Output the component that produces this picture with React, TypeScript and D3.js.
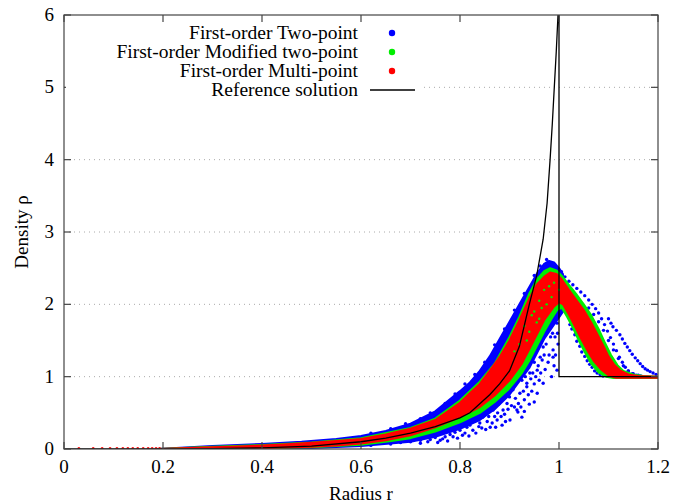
import React, { useRef, useEffect } from 'react';
import * as d3 from 'd3';

// axis ticks
const xTicks = [0, 0.2, 0.4, 0.6, 0.8, 1, 1.2];
const yTicks = [0, 1, 2, 3, 4, 5, 6];
const gridLevels = [1, 2, 3, 4, 5];

const legendLabels = ['First-order Two-point', 'First-order Modified two-point', 'First-order Multi-point', 'Reference solution'];
const seriesColors = ['#0000ff', '#00ee00', '#ff0000'];

// reference solution
const refR = [0, 0.2, 0.3, 0.4, 0.5, 0.6, 0.65, 0.7, 0.75, 0.8, 0.82, 0.86, 0.88, 0.9, 0.92, 0.94, 0.955, 0.968, 0.976, 0.982, 0.9865, 0.9905, 0.9945, 0.998, 1.0, 1.0, 1.2];
const refRho = [0, 0.002, 0.006, 0.015, 0.04, 0.1, 0.15, 0.22, 0.31, 0.43, 0.5, 0.75, 0.9, 1.08, 1.42, 2.0, 2.4, 2.9, 3.4, 4.0, 4.5, 5.0, 5.5, 6.0, 6.0, 1.0, 1.0];

// dense part of each cloud: upper and lower edges [r, rho]
const blueUpper = [[0.19, 0], [0.3, 0.04], [0.4, 0.07], [0.48, 0.1], [0.55, 0.14], [0.6, 0.18], [0.65, 0.25], [0.7, 0.35], [0.75, 0.52], [0.8, 0.8], [0.82, 0.92], [0.84, 1.08], [0.86, 1.28], [0.88, 1.52], [0.9, 1.76], [0.92, 2.0], [0.94, 2.24], [0.955, 2.42], [0.97, 2.56], [0.98, 2.6], [0.99, 2.58], [1.0, 2.5], [1.008, 2.42]];
const blueLower = [[1.008, 1.9], [0.97, 1.52], [0.94, 1.12], [0.9, 0.75], [0.87, 0.55], [0.84, 0.4], [0.8, 0.28], [0.75, 0.17], [0.7, 0.1], [0.6, 0.04], [0.5, 0.015], [0.4, 0.005], [0.19, 0]];

const greenUpper = [[0.19, 0], [0.3, 0.03], [0.4, 0.055], [0.5, 0.09], [0.6, 0.15], [0.7, 0.29], [0.75, 0.42], [0.8, 0.67], [0.84, 0.93], [0.87, 1.18], [0.9, 1.55], [0.92, 1.83], [0.94, 2.15], [0.955, 2.34], [0.97, 2.46], [0.982, 2.5], [0.995, 2.47], [1.005, 2.4], [1.02, 2.27], [1.035, 2.14], [1.05, 2.0], [1.065, 1.85], [1.08, 1.66], [1.092, 1.48], [1.105, 1.3], [1.118, 1.16], [1.13, 1.08], [1.15, 1.03], [1.17, 1.01], [1.2, 1.0]];
const greenLower = [[1.2, 0.98], [1.11, 0.98], [1.095, 1.0], [1.08, 1.06], [1.065, 1.18], [1.052, 1.34], [1.04, 1.5], [1.028, 1.68], [1.016, 1.83], [1.006, 1.95], [0.997, 1.93], [0.985, 1.8], [0.97, 1.62], [0.955, 1.42], [0.94, 1.22], [0.925, 1.05], [0.9, 0.84], [0.87, 0.65], [0.84, 0.5], [0.8, 0.37], [0.75, 0.24], [0.7, 0.15], [0.65, 0.1], [0.6, 0.06], [0.5, 0.025], [0.4, 0.008], [0.19, 0]];

const redUpper = [[0.19, 0], [0.25, 0.015], [0.3, 0.025], [0.35, 0.035], [0.4, 0.05], [0.45, 0.065], [0.5, 0.085], [0.55, 0.11], [0.6, 0.14], [0.65, 0.2], [0.7, 0.28], [0.75, 0.4], [0.8, 0.64], [0.82, 0.77], [0.84, 0.9], [0.86, 1.08], [0.88, 1.27], [0.9, 1.5], [0.92, 1.78], [0.94, 2.08], [0.955, 2.27], [0.97, 2.38], [0.982, 2.44], [0.995, 2.42], [1.005, 2.35], [1.02, 2.2], [1.035, 2.06], [1.05, 1.92], [1.065, 1.75], [1.078, 1.58], [1.09, 1.42], [1.1, 1.28], [1.112, 1.16], [1.125, 1.08], [1.14, 1.03], [1.16, 1.01], [1.2, 1.0]];
const redLower = [[1.2, 0.985], [1.115, 0.985], [1.1, 1.02], [1.085, 1.1], [1.07, 1.22], [1.06, 1.33], [1.045, 1.52], [1.032, 1.7], [1.02, 1.86], [1.008, 2.0], [1.0, 2.03], [0.99, 1.97], [0.97, 1.78], [0.955, 1.58], [0.94, 1.38], [0.925, 1.18], [0.9, 0.95], [0.87, 0.74], [0.84, 0.58], [0.8, 0.44], [0.75, 0.3], [0.7, 0.19], [0.65, 0.12], [0.6, 0.075], [0.55, 0.05], [0.5, 0.03], [0.45, 0.02], [0.4, 0.012], [0.3, 0.005], [0.19, 0]];

// loose points outside the dense parts
const blueDots = [
  [0.62, 0.22], [0.66, 0.28], [0.69, 0.35], [0.72, 0.42], [0.74, 0.5], [0.77, 0.63], [0.79, 0.76], [0.81, 0.9], [0.83, 1.03], [0.85, 1.2],
  [0.87, 1.44], [0.89, 1.66], [0.91, 1.92], [0.93, 2.15], [0.95, 2.4], [0.962, 2.53], [0.975, 2.62],
  [0.62, 0.05], [0.66, 0.07], [0.68, 0.09], [0.7, 0.1], [0.72, 0.12], [0.74, 0.13], [0.75, 0.16], [0.76, 0.12], [0.77, 0.17], [0.78, 0.2],
  [0.786, 0.17], [0.79, 0.23], [0.8, 0.26], [0.81, 0.22], [0.814, 0.3], [0.82, 0.33], [0.826, 0.26], [0.83, 0.4], [0.84, 0.36], [0.844, 0.29],
  [0.846, 0.44], [0.85, 0.5], [0.855, 0.38], [0.861, 0.58], [0.861, 0.3], [0.867, 0.54], [0.87, 0.45], [0.875, 0.4], [0.878, 0.62], [0.881, 0.68],
  [0.885, 0.33], [0.887, 0.54], [0.89, 0.48], [0.895, 0.63], [0.9, 0.72], [0.901, 0.4], [0.907, 0.82], [0.91, 0.58], [0.915, 0.54], [0.917, 0.51],
  [0.921, 0.77], [0.925, 0.95], [0.927, 1.13], [0.93, 0.68], [0.935, 0.86], [0.935, 0.91], [0.941, 1.05], [0.945, 0.8], [0.947, 1.37], [0.947, 1.05],
  [0.95, 1.2], [0.956, 0.77], [0.956, 1.09], [0.96, 0.95], [0.962, 1.27], [0.966, 1.23], [0.968, 0.91], [0.968, 1.41], [0.972, 1.1], [0.976, 1.65],
  [0.98, 1.3], [0.982, 1.78], [0.985, 1.0], [0.988, 1.37], [0.988, 1.27], [0.99, 1.15], [0.992, 1.55], [0.996, 1.09], [0.996, 1.74], [0.998, 1.45],
  [0.72, 0.08], [0.735, 0.1], [0.755, 0.09], [0.765, 0.14], [0.775, 0.11], [0.795, 0.15], [0.805, 0.19], [0.818, 0.18], [0.832, 0.22], [0.838, 0.31],
  [0.852, 0.27], [0.858, 0.45], [0.865, 0.36], [0.872, 0.3], [0.876, 0.5], [0.883, 0.45], [0.892, 0.38], [0.897, 0.55], [0.904, 0.6], [0.912, 0.7],
  [0.918, 0.63], [0.923, 0.58], [0.928, 0.8], [0.932, 1.0], [0.938, 0.75], [0.943, 0.97], [0.95, 0.9], [0.953, 1.0], [0.958, 1.15], [0.963, 1.05],
  [0.97, 1.3], [0.974, 1.45], [0.978, 1.2], [0.983, 1.55], [0.987, 1.6], [0.993, 1.3], [0.997, 1.6], [0.999, 1.95], [1.0, 1.85], [0.994, 1.9],
  [0.985, 1.7], [0.925, 0.44], [0.93, 0.52], [0.94, 0.62], [0.95, 0.65],
  [1.005, 2.45], [1.012, 2.38], [1.02, 2.32], [1.028, 2.27], [1.036, 2.22], [1.044, 2.17], [1.052, 2.12], [1.06, 2.06], [1.067, 2.0], [1.074, 1.94],
  [1.08, 1.88], [1.086, 1.8], [1.092, 1.72], [1.098, 1.63], [1.104, 1.54], [1.11, 1.45], [1.116, 1.36], [1.122, 1.27], [1.128, 1.2], [1.134, 1.13],
  [1.14, 1.08], [1.148, 1.04], [1.156, 1.02], [1.165, 1.01],
  [1.06, 1.95], [1.07, 1.86], [1.08, 1.76], [1.09, 1.64], [1.1, 1.5], [1.11, 1.37], [1.12, 1.25], [1.13, 1.15], [1.14, 1.08], [1.15, 1.04], [1.16, 1.02],
  [1.1, 1.8], [1.105, 1.74], [1.109, 1.69], [1.116, 1.64], [1.123, 1.58], [1.128, 1.52], [1.133, 1.46], [1.138, 1.41], [1.143, 1.36], [1.148, 1.31],
  [1.154, 1.26], [1.159, 1.22], [1.164, 1.18], [1.169, 1.14], [1.174, 1.11], [1.179, 1.09], [1.184, 1.07], [1.19, 1.05], [1.196, 1.03],
  [1.008, 2.06], [1.012, 1.95], [1.016, 1.88], [1.022, 1.72], [1.026, 1.66], [1.032, 1.58], [1.036, 1.49], [1.042, 1.42], [1.046, 1.34], [1.052, 1.28],
  [1.057, 1.22], [1.062, 1.17], [1.067, 1.13], [1.072, 1.08], [1.077, 1.05], [1.083, 1.03], [1.089, 1.01]
];
const greenDots = [[0.91, 1.35], [0.92, 1.45], [0.93, 1.7], [0.935, 1.5], [0.94, 1.62], [0.945, 1.85], [0.95, 1.9], [0.955, 1.75], [0.96, 2.05], [0.96, 1.8], [0.965, 1.95], [0.97, 2.2], [0.975, 2.0], [0.98, 2.25], [0.985, 2.1], [0.99, 2.3], [1.0, 2.2]];
const redTailR = [0.03, 0.059, 0.077, 0.093, 0.107, 0.119, 0.129, 0.139, 0.149, 0.16, 0.17, 0.178, 0.186, 0.193];

const W = 673;
const H = 504;
const margin = { top: 15, right: 15, bottom: 55, left: 64 };
const font = "'Liberation Serif', 'Times New Roman', serif";

const App = () => {
  const ref = useRef(null);

  useEffect(() => {
    const svg = d3.select(ref.current);
    svg.selectAll('*').remove();

    const x = d3.scaleLinear().domain([0, 1.2]).range([margin.left, W - margin.right]);
    const y = d3.scaleLinear().domain([0, 6]).range([H - margin.bottom, margin.top]);

    svg.append('defs').append('clipPath').attr('id', 'plot-clip')
      .append('rect').attr('x', x(0)).attr('y', y(6)).attr('width', x(1.2) - x(0)).attr('height', y(0) - y(6));

    // grid
    svg.append('g').selectAll('line').data(gridLevels).enter().append('line')
      .attr('x1', x(0)).attr('x2', x(1.2)).attr('y1', d => y(d)).attr('y2', d => y(d))
      .attr('stroke', '#aaa').attr('stroke-width', 1).attr('stroke-dasharray', '1,4');

    const plot = svg.append('g').attr('clip-path', 'url(#plot-clip)');
    const line = d3.line().x(d => x(d[0])).y(d => y(d[1]));
    const band = (upper, lower, color) => {
      plot.append('path').attr('d', line(upper.concat(lower)) + 'Z')
        .attr('fill', color).attr('stroke', color).attr('stroke-width', 2).attr('stroke-linejoin', 'round');
    };
    const dots = (pts, color, r) => {
      plot.append('g').selectAll('circle').data(pts).enter().append('circle')
        .attr('cx', d => x(d[0])).attr('cy', d => y(d[1])).attr('r', r).attr('fill', color);
    };

    band(blueUpper, blueLower, seriesColors[0]);
    dots(blueDots, seriesColors[0], 1.7);
    band(greenUpper, greenLower, seriesColors[1]);
    band(redUpper, redLower, seriesColors[2]);
    dots(redTailR.map(r => [r, 0.006]), seriesColors[2], 1.5);
    dots(greenDots, seriesColors[1], 1.2);

    // reference solution
    plot.append('path').datum(refR.map((r, i) => [r, refRho[i]]))
      .attr('d', line).attr('fill', 'none').attr('stroke', '#000').attr('stroke-width', 1.3);

    // frame and ticks
    svg.append('rect').attr('x', x(0)).attr('y', y(6)).attr('width', x(1.2) - x(0)).attr('height', y(0) - y(6))
      .attr('fill', 'none').attr('stroke', '#444').attr('stroke-width', 1.2);
    const tk = 7;
    const g = svg.append('g').attr('stroke', '#444').attr('stroke-width', 1.2);
    xTicks.forEach(t => {
      g.append('line').attr('x1', x(t)).attr('x2', x(t)).attr('y1', y(0)).attr('y2', y(0) - tk);
      g.append('line').attr('x1', x(t)).attr('x2', x(t)).attr('y1', y(6)).attr('y2', y(6) + tk);
    });
    yTicks.forEach(t => {
      g.append('line').attr('x1', x(0)).attr('x2', x(0) + tk).attr('y1', y(t)).attr('y2', y(t));
      g.append('line').attr('x1', x(1.2)).attr('x2', x(1.2) - tk).attr('y1', y(t)).attr('y2', y(t));
    });

    svg.append('g').selectAll('text').data(xTicks).enter().append('text')
      .attr('x', d => x(d)).attr('y', y(0) + 24).attr('text-anchor', 'middle')
      .style('font-family', font).style('font-size', '19px').text(d => String(d));
    svg.append('g').selectAll('text').data(yTicks).enter().append('text')
      .attr('x', x(0) - 10).attr('y', d => y(d) + 6).attr('text-anchor', 'end')
      .style('font-family', font).style('font-size', '19px').text(d => String(d));

    svg.append('text').attr('x', (x(0) + x(1.2)) / 2).attr('y', H - 4).attr('text-anchor', 'middle')
      .style('font-family', font).style('font-size', '19px').text('Radius r');
    svg.append('text').attr('transform', `translate(28,${(y(0) + y(6)) / 2}) rotate(-90)`).attr('text-anchor', 'middle')
      .style('font-family', font).style('font-size', '19px').text('Density ρ');

    // legend
    const lg = svg.append('g');
    lg.append('rect').attr('x', x(0) + 2).attr('y', 22).attr('width', 358).attr('height', 78).attr('fill', '#fff');
    legendLabels.forEach((label, i) => {
      const cy = 33 + i * 19;
      lg.append('text').attr('x', 358).attr('y', cy + 6).attr('text-anchor', 'end')
        .style('font-family', font).style('font-size', '19.5px').text(label);
      if (i < 3) {
        lg.append('circle').attr('cx', 392).attr('cy', cy).attr('r', 3.2).attr('fill', seriesColors[i]);
      } else {
        lg.append('line').attr('x1', 370).attr('x2', 415).attr('y1', cy).attr('y2', cy).attr('stroke', '#000').attr('stroke-width', 1.3);
      }
    });
  }, []);

  return <svg ref={ref} width={W} height={H} style={{ position: 'absolute', left: 0, top: 0, background: '#fff' }}></svg>;
};

export default App;
